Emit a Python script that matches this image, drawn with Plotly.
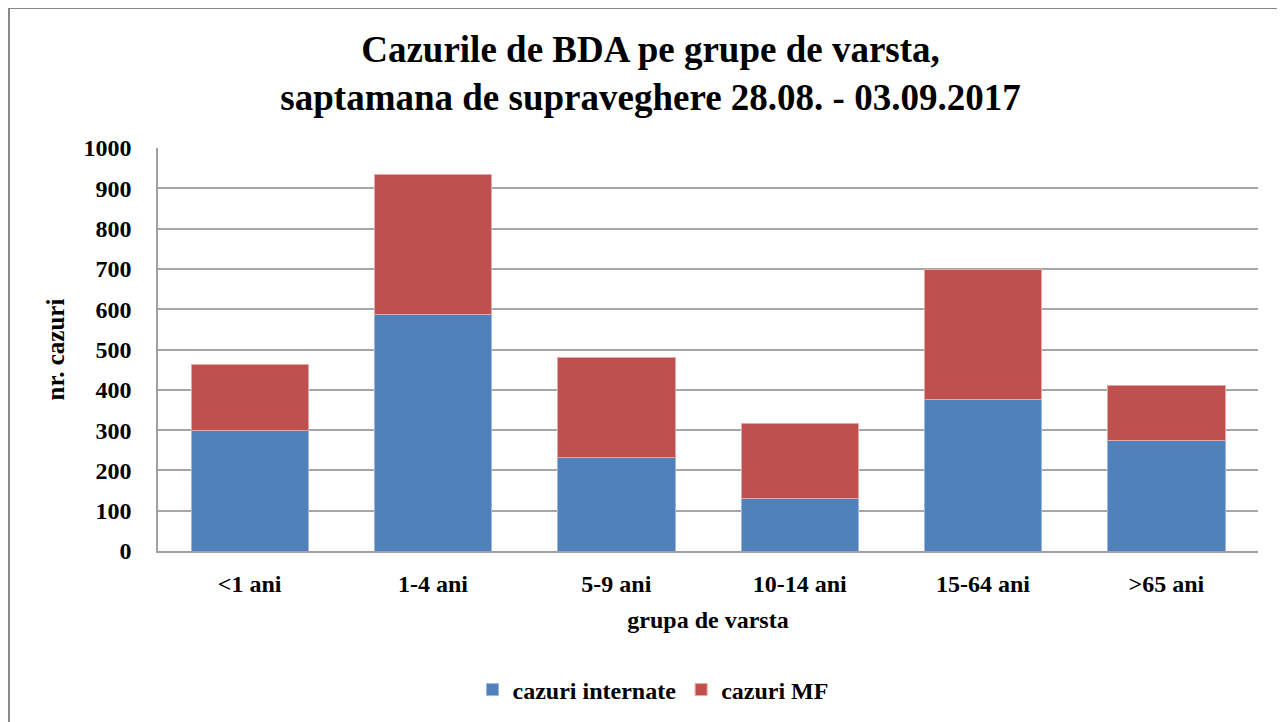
import plotly.graph_objects as go

categories = ["<1 ani", "1-4 ani", "5-9 ani", "10-14 ani", "15-64 ani", ">65 ani"]
cazuri_internate = [300, 588, 231, 130, 377, 275]
cazuri_mf = [164, 346, 250, 186, 322, 136]
y_ticks = [0, 100, 200, 300, 400, 500, 600, 700, 800, 900, 1000]

FONT = "'Liberation Serif', 'Times New Roman', 'DejaVu Serif', serif"
OFF = 8  # page offset of the figure
L, R, T, B = 158 - OFF, 27 + OFF, 148 - OFF, 171 + OFF
W, H = 1285, 722
pw = W - L - R
ph = H - T - B


def py(pix):
    """paper y for a page pixel row"""
    return (551 - pix) / ph


def px(pix):
    return (pix - 158) / pw


fig = go.Figure()
fig.add_trace(go.Bar(name="<b>cazuri internate</b>", x=categories, y=cazuri_internate,
                     marker=dict(color="#4F81BD", line=dict(color="#9DB7DC", width=1))))
fig.add_trace(go.Bar(name="<b>cazuri MF</b>", x=categories, y=cazuri_mf,
                     marker=dict(color="#C0504D", line=dict(color="#E3A9A8", width=1))))

fig.update_layout(
    width=W, height=H,
    barmode="stack", bargap=0.36,
    plot_bgcolor="white", paper_bgcolor="white",
    margin=dict(l=L, r=R, t=T, b=B),
    font=dict(family=FONT, color="black"),
    title=dict(text="<b>Cazurile de BDA pe grupe de varsta,<br>saptamana de supraveghere 28.08. - 03.09.2017</b>",
               x=0.5, xanchor="center", y=1 - (62 - OFF) / H, yanchor="middle",
               font=dict(family=FONT, size=37, color="black")),
    xaxis=dict(title=dict(text="<b>grupa de varsta</b>", font=dict(family=FONT, size=24), standoff=16),
               tickfont=dict(family=FONT, size=24),
               tickvals=categories, ticktext=["<b>" + c.replace("<", "&lt;").replace(">", "&gt;") + "</b>" for c in categories],
               showline=True, linecolor="#A0A0A0", linewidth=1.5, ticks="", ticklabelstandoff=10),
    yaxis=dict(title=dict(text="<b>nr. cazuri</b>", font=dict(family=FONT, size=25), standoff=12),
               range=[0, 1000], tickvals=y_ticks, ticktext=["<b>%d</b>" % v for v in y_ticks],
               tickfont=dict(family=FONT, size=24),
               showgrid=True, gridcolor="#A6A6A6", gridwidth=1.5,
               showline=True, linecolor="#A0A0A0", linewidth=1.5, ticks="", ticklabelstandoff=20),
    legend=dict(orientation="h", x=px(653), xanchor="center", y=py(690), yanchor="middle",
                font=dict(family=FONT, size=24), traceorder="normal", itemwidth=30),
    shapes=[dict(type="rect", xref="paper", yref="paper",
                 x0=px(9), x1=px(1300), y0=py(740), y1=py(8),
                 line=dict(color="#888888", width=2), fillcolor="rgba(0,0,0,0)", layer="below")],
)

fig.write_html("out.html")
